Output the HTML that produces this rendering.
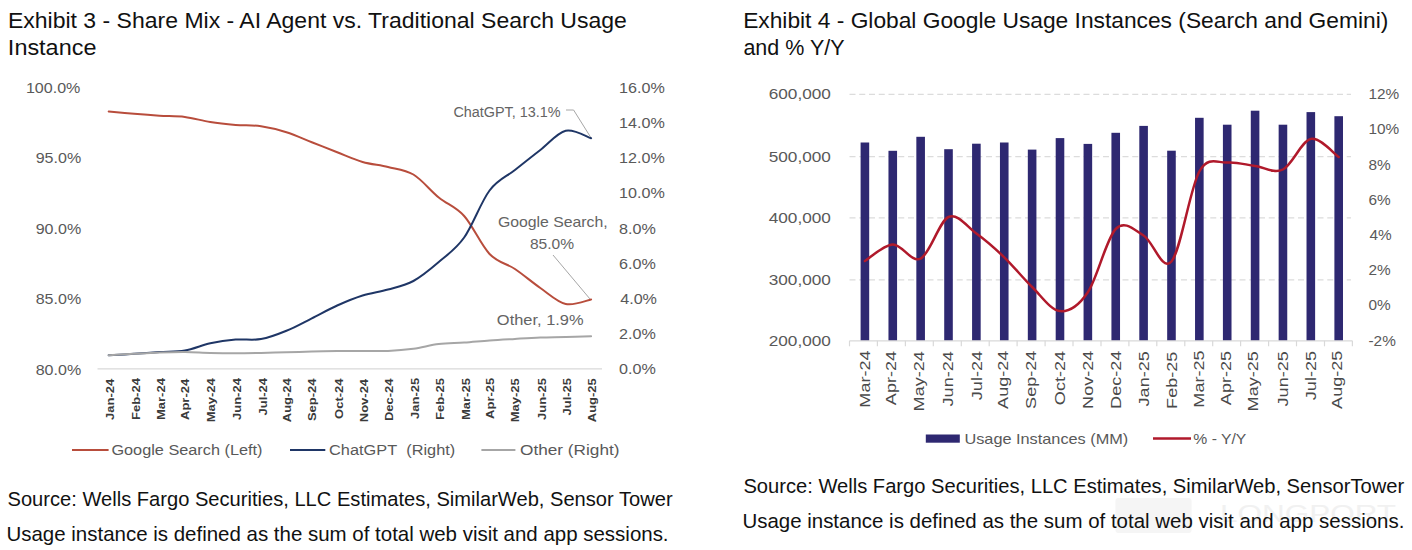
<!DOCTYPE html>
<html><head><meta charset="utf-8"><style>
html,body{margin:0;padding:0;background:#fff;}
body{width:1412px;height:550px;position:relative;overflow:hidden;font-family:"Liberation Sans", sans-serif;}
svg{position:absolute;left:0;top:0;}
text{font-family:"Liberation Sans", sans-serif;}
</style></head><body>
<svg width="1412" height="550" viewBox="0 0 1412 550">
<line x1="97.5" y1="368.8" x2="602" y2="368.8" stroke="#d9d9d9" stroke-width="1.3"/>
<path d="M108.70,111.40 C112.93,111.80 125.63,113.08 134.09,113.80 C142.55,114.52 151.02,115.18 159.48,115.70 C167.94,116.22 176.41,115.83 184.87,116.90 C193.33,117.97 201.80,120.77 210.26,122.10 C218.72,123.43 227.19,124.22 235.65,124.90 C244.11,125.58 252.58,124.98 261.04,126.20 C269.50,127.42 277.97,129.53 286.43,132.20 C294.89,134.87 303.36,138.85 311.82,142.20 C320.28,145.55 328.75,149.00 337.21,152.30 C345.67,155.60 354.14,159.55 362.60,162.00 C371.06,164.45 379.53,164.92 387.99,167.00 C396.45,169.08 404.92,169.42 413.38,174.50 C421.84,179.58 430.31,190.58 438.77,197.50 C447.23,204.42 455.70,206.58 464.16,216.00 C472.62,225.42 481.09,245.17 489.55,254.00 C498.01,262.83 506.48,263.33 514.94,269.00 C523.40,274.67 531.87,282.17 540.33,288.00 C548.79,293.83 557.26,302.08 565.72,304.00 C574.18,305.92 586.88,300.25 591.11,299.50" fill="none" stroke="#b84d3c" stroke-width="2.0" stroke-linecap="round" stroke-linejoin="round"/>
<path d="M108.70,355.30 C112.93,355.05 125.63,354.35 134.09,353.80 C142.55,353.25 151.02,352.55 159.48,352.00 C167.94,351.45 176.41,351.95 184.87,350.50 C193.33,349.05 201.80,345.12 210.26,343.30 C218.72,341.48 227.19,340.30 235.65,339.60 C244.11,338.90 252.58,340.57 261.04,339.10 C269.50,337.63 277.97,334.27 286.43,330.80 C294.89,327.33 303.36,322.52 311.82,318.30 C320.28,314.08 328.75,309.30 337.21,305.50 C345.67,301.70 354.14,298.17 362.60,295.50 C371.06,292.83 379.53,291.92 387.99,289.50 C396.45,287.08 404.92,285.58 413.38,281.00 C421.84,276.42 430.31,269.25 438.77,262.00 C447.23,254.75 455.70,249.42 464.16,237.50 C472.62,225.58 481.09,201.75 489.55,190.50 C498.01,179.25 506.48,176.75 514.94,170.00 C523.40,163.25 531.87,156.53 540.33,150.00 C548.79,143.47 557.26,132.77 565.72,130.80 C574.18,128.83 586.88,136.97 591.11,138.20" fill="none" stroke="#1f3666" stroke-width="2.0" stroke-linecap="round" stroke-linejoin="round"/>
<path d="M108.70,355.30 C112.93,355.05 125.63,354.27 134.09,353.80 C142.55,353.33 151.02,352.80 159.48,352.50 C167.94,352.20 176.41,351.93 184.87,352.00 C193.33,352.07 201.80,352.70 210.26,352.90 C218.72,353.10 227.19,353.20 235.65,353.20 C244.11,353.20 252.58,353.05 261.04,352.90 C269.50,352.75 277.97,352.52 286.43,352.30 C294.89,352.08 303.36,351.82 311.82,351.60 C320.28,351.38 328.75,351.12 337.21,351.00 C345.67,350.88 354.14,350.92 362.60,350.90 C371.06,350.88 379.53,351.27 387.99,350.90 C396.45,350.53 404.92,349.83 413.38,348.70 C421.84,347.57 430.31,345.12 438.77,344.10 C447.23,343.08 455.70,343.22 464.16,342.60 C472.62,341.98 481.09,341.02 489.55,340.40 C498.01,339.78 506.48,339.37 514.94,338.90 C523.40,338.43 531.87,337.90 540.33,337.60 C548.79,337.30 557.26,337.33 565.72,337.10 C574.18,336.87 586.88,336.35 591.11,336.20" fill="none" stroke="#a6a6a6" stroke-width="2.0" stroke-linecap="round" stroke-linejoin="round"/>
<polyline points="566,110 573.6,110 590.5,137" fill="none" stroke="#a6a6a6" stroke-width="1"/>
<line x1="553" y1="255" x2="590" y2="299" stroke="#a6a6a6" stroke-width="1"/>
<line x1="72" y1="450" x2="108.6" y2="450" stroke="#b84d3c" stroke-width="2.0"/>
<line x1="290" y1="450" x2="325.3" y2="450" stroke="#1f3666" stroke-width="2.0"/>
<line x1="481.4" y1="450" x2="515.4" y2="450" stroke="#a6a6a6" stroke-width="2.0"/>
<line x1="849.5" y1="94.4" x2="1351" y2="94.4" stroke="#dcdcdc" stroke-width="1.2" stroke-dasharray="6,3.75"/>
<line x1="849.5" y1="156.7" x2="1351" y2="156.7" stroke="#dcdcdc" stroke-width="1.2" stroke-dasharray="6,3.75"/>
<line x1="849.5" y1="217.9" x2="1351" y2="217.9" stroke="#dcdcdc" stroke-width="1.2" stroke-dasharray="6,3.75"/>
<line x1="849.5" y1="279.9" x2="1351" y2="279.9" stroke="#dcdcdc" stroke-width="1.2" stroke-dasharray="6,3.75"/>
<rect x="860.60" y="142.5" width="8.6" height="198.3" fill="#2e2871"/>
<rect x="888.47" y="150.8" width="8.6" height="190.0" fill="#2e2871"/>
<rect x="916.34" y="136.8" width="8.6" height="204.0" fill="#2e2871"/>
<rect x="944.21" y="149.2" width="8.6" height="191.6" fill="#2e2871"/>
<rect x="972.08" y="143.7" width="8.6" height="197.1" fill="#2e2871"/>
<rect x="999.95" y="142.5" width="8.6" height="198.3" fill="#2e2871"/>
<rect x="1027.82" y="149.6" width="8.6" height="191.2" fill="#2e2871"/>
<rect x="1055.69" y="138.1" width="8.6" height="202.7" fill="#2e2871"/>
<rect x="1083.56" y="143.9" width="8.6" height="196.9" fill="#2e2871"/>
<rect x="1111.43" y="132.8" width="8.6" height="208.0" fill="#2e2871"/>
<rect x="1139.30" y="125.9" width="8.6" height="214.9" fill="#2e2871"/>
<rect x="1167.17" y="150.7" width="8.6" height="190.1" fill="#2e2871"/>
<rect x="1195.04" y="117.8" width="8.6" height="223.0" fill="#2e2871"/>
<rect x="1222.91" y="124.7" width="8.6" height="216.1" fill="#2e2871"/>
<rect x="1250.78" y="110.7" width="8.6" height="230.1" fill="#2e2871"/>
<rect x="1278.65" y="124.7" width="8.6" height="216.1" fill="#2e2871"/>
<rect x="1306.52" y="112.1" width="8.6" height="228.7" fill="#2e2871"/>
<rect x="1334.39" y="116.2" width="8.6" height="224.6" fill="#2e2871"/>
<line x1="849.5" y1="340.8" x2="1352.4" y2="340.8" stroke="#d9d9d9" stroke-width="1.2"/>
<line x1="849.5" y1="340.8" x2="849.5" y2="346.3" stroke="#d9d9d9" stroke-width="1.2"/>
<line x1="877.4" y1="340.8" x2="877.4" y2="346.3" stroke="#d9d9d9" stroke-width="1.2"/>
<line x1="905.4" y1="340.8" x2="905.4" y2="346.3" stroke="#d9d9d9" stroke-width="1.2"/>
<line x1="933.3" y1="340.8" x2="933.3" y2="346.3" stroke="#d9d9d9" stroke-width="1.2"/>
<line x1="961.3" y1="340.8" x2="961.3" y2="346.3" stroke="#d9d9d9" stroke-width="1.2"/>
<line x1="989.2" y1="340.8" x2="989.2" y2="346.3" stroke="#d9d9d9" stroke-width="1.2"/>
<line x1="1017.1" y1="340.8" x2="1017.1" y2="346.3" stroke="#d9d9d9" stroke-width="1.2"/>
<line x1="1045.1" y1="340.8" x2="1045.1" y2="346.3" stroke="#d9d9d9" stroke-width="1.2"/>
<line x1="1073.0" y1="340.8" x2="1073.0" y2="346.3" stroke="#d9d9d9" stroke-width="1.2"/>
<line x1="1101.0" y1="340.8" x2="1101.0" y2="346.3" stroke="#d9d9d9" stroke-width="1.2"/>
<line x1="1128.9" y1="340.8" x2="1128.9" y2="346.3" stroke="#d9d9d9" stroke-width="1.2"/>
<line x1="1156.8" y1="340.8" x2="1156.8" y2="346.3" stroke="#d9d9d9" stroke-width="1.2"/>
<line x1="1184.8" y1="340.8" x2="1184.8" y2="346.3" stroke="#d9d9d9" stroke-width="1.2"/>
<line x1="1212.7" y1="340.8" x2="1212.7" y2="346.3" stroke="#d9d9d9" stroke-width="1.2"/>
<line x1="1240.6" y1="340.8" x2="1240.6" y2="346.3" stroke="#d9d9d9" stroke-width="1.2"/>
<line x1="1268.6" y1="340.8" x2="1268.6" y2="346.3" stroke="#d9d9d9" stroke-width="1.2"/>
<line x1="1296.5" y1="340.8" x2="1296.5" y2="346.3" stroke="#d9d9d9" stroke-width="1.2"/>
<line x1="1324.5" y1="340.8" x2="1324.5" y2="346.3" stroke="#d9d9d9" stroke-width="1.2"/>
<line x1="1352.4" y1="340.8" x2="1352.4" y2="346.3" stroke="#d9d9d9" stroke-width="1.2"/>
<path d="M864.90,261.00 C869.54,258.23 883.48,244.80 892.77,244.40 C902.06,244.00 911.35,263.17 920.64,258.60 C929.93,254.03 939.22,221.18 948.51,217.00 C957.80,212.82 967.09,226.78 976.38,233.50 C985.67,240.22 994.96,248.38 1004.25,257.30 C1013.54,266.22 1022.83,278.03 1032.12,287.00 C1041.41,295.97 1050.70,310.23 1059.99,311.10 C1069.28,311.97 1078.57,305.88 1087.86,292.20 C1097.15,278.52 1106.44,238.45 1115.73,229.00 C1125.02,219.55 1134.31,230.08 1143.60,235.50 C1152.89,240.92 1162.18,272.17 1171.47,261.50 C1180.76,250.83 1190.05,188.00 1199.34,171.50 C1208.63,155.00 1217.92,163.42 1227.21,162.50 C1236.50,161.58 1245.79,164.83 1255.08,166.00 C1264.37,167.17 1273.66,174.02 1282.95,169.50 C1292.24,164.98 1301.53,140.98 1310.82,138.90 C1320.11,136.82 1334.05,153.98 1338.69,157.00" fill="none" stroke="#b0192b" stroke-width="2.5" stroke-linecap="round" stroke-linejoin="round"/>
<rect x="925.8" y="434.5" width="34" height="8.2" fill="#2e2871"/>
<line x1="1153" y1="438.6" x2="1191" y2="438.6" stroke="#b0192b" stroke-width="2.5"/>
<g opacity="0.5"><rect x="1115.5" y="498" width="76" height="35" rx="3" fill="#ececec"/><text x="1220" y="522" font-size="24" fill="#e4e4e4" textLength="176" lengthAdjust="spacingAndGlyphs">LONGPORT</text></g>
<text transform="translate(7.91,28.00) scale(1.0467,1)" font-size="22" font-weight="normal" fill="#111111">Exhibit 3 - Share Mix - AI Agent vs. Traditional Search Usage</text>
<text transform="translate(7.87,55.20) scale(1.0650,1)" font-size="22" font-weight="normal" fill="#111111">Instance</text>
<text transform="translate(743.13,27.80) scale(1.0352,1)" font-size="22" font-weight="normal" fill="#111111">Exhibit 4 - Global Google Usage Instances (Search and Gemini)</text>
<text transform="translate(743.42,55.00) scale(0.9765,1)" font-size="22" font-weight="normal" fill="#111111">and % Y/Y</text>
<text transform="translate(7.51,506.20) scale(0.9912,1)" font-size="20.3" font-weight="normal" fill="#111111">Source: Wells Fargo Securities, LLC Estimates, SimilarWeb, Sensor Tower</text>
<text transform="translate(6.48,541.20) scale(1.0089,1)" font-size="20.3" font-weight="normal" fill="#111111">Usage instance is defined as the sum of total web visit and app sessions.</text>
<text transform="translate(743.41,493.00) scale(0.9922,1)" font-size="20.3" font-weight="normal" fill="#111111">Source: Wells Fargo Securities, LLC Estimates, SimilarWeb, SensorTower</text>
<text transform="translate(742.38,527.90) scale(1.0086,1)" font-size="20.3" font-weight="normal" fill="#111111">Usage instance is defined as the sum of total web visit and app sessions.</text>
<text transform="translate(453.41,117.30) scale(0.9943,1)" font-size="14.5" font-weight="normal" fill="#646464">ChatGPT, 13.1%</text>
<text transform="translate(497.91,227.00) scale(1.0909,1)" font-size="14.5" font-weight="normal" fill="#646464">Google Search,</text>
<text transform="translate(529.92,248.60) scale(1.0750,1)" font-size="14.5" font-weight="normal" fill="#646464">85.0%</text>
<text transform="translate(496.87,324.70) scale(1.1333,1)" font-size="14.5" font-weight="normal" fill="#646464">Other, 1.9%</text>
<text transform="translate(111.38,454.80) scale(1.1233,1)" font-size="14.5" font-weight="normal" fill="#595959">Google Search (Left)</text>
<text transform="translate(329.07,454.80) scale(1.1273,1)" font-size="14.5" font-weight="normal" fill="#595959">ChatGPT  (Right)</text>
<text transform="translate(520.01,454.80) scale(1.1890,1)" font-size="14.5" font-weight="normal" fill="#595959">Other (Right)</text>
<text transform="translate(964.41,443.90) scale(1.0866,1)" font-size="15" font-weight="normal" fill="#595959">Usage Instances (MM)</text>
<text transform="translate(1193.35,443.90) scale(1.0490,1)" font-size="15" font-weight="normal" fill="#595959">% - Y/Y</text>
<text transform="translate(25.91,92.80) scale(1.0857,1)" font-size="14.8" font-weight="normal" fill="#595959">100.0%</text>
<text transform="translate(35.69,163.20) scale(1.0857,1)" font-size="14.8" font-weight="normal" fill="#595959">95.0%</text>
<text transform="translate(35.69,233.80) scale(1.0857,1)" font-size="14.8" font-weight="normal" fill="#595959">90.0%</text>
<text transform="translate(35.69,304.30) scale(1.0857,1)" font-size="14.8" font-weight="normal" fill="#595959">85.0%</text>
<text transform="translate(35.69,374.60) scale(1.0857,1)" font-size="14.8" font-weight="normal" fill="#595959">80.0%</text>
<text transform="translate(619.11,92.80) scale(1.0900,1)" font-size="14.8" font-weight="normal" fill="#595959">16.0%</text>
<text transform="translate(619.11,128.00) scale(1.0900,1)" font-size="14.8" font-weight="normal" fill="#595959">14.0%</text>
<text transform="translate(619.11,163.20) scale(1.0900,1)" font-size="14.8" font-weight="normal" fill="#595959">12.0%</text>
<text transform="translate(619.11,198.40) scale(1.0900,1)" font-size="14.8" font-weight="normal" fill="#595959">10.0%</text>
<text transform="translate(619.11,233.60) scale(1.0900,1)" font-size="14.8" font-weight="normal" fill="#595959">8.0%</text>
<text transform="translate(619.11,268.80) scale(1.0900,1)" font-size="14.8" font-weight="normal" fill="#595959">6.0%</text>
<text transform="translate(620.20,304.00) scale(1.0900,1)" font-size="14.8" font-weight="normal" fill="#595959">4.0%</text>
<text transform="translate(619.11,339.20) scale(1.0900,1)" font-size="14.8" font-weight="normal" fill="#595959">2.0%</text>
<text transform="translate(619.11,374.40) scale(1.0900,1)" font-size="14.8" font-weight="normal" fill="#595959">0.0%</text>
<text transform="translate(768.65,99.40) scale(1.1491,1)" font-size="15" font-weight="normal" fill="#595959">600,000</text>
<text transform="translate(768.65,161.70) scale(1.1491,1)" font-size="15" font-weight="normal" fill="#595959">500,000</text>
<text transform="translate(768.65,222.90) scale(1.1491,1)" font-size="15" font-weight="normal" fill="#595959">400,000</text>
<text transform="translate(768.65,284.90) scale(1.1491,1)" font-size="15" font-weight="normal" fill="#595959">300,000</text>
<text transform="translate(768.65,345.80) scale(1.1491,1)" font-size="15" font-weight="normal" fill="#595959">200,000</text>
<text transform="translate(1368.48,99.20) scale(1.0241,1)" font-size="15" font-weight="normal" fill="#595959">12%</text>
<text transform="translate(1368.48,134.40) scale(1.0241,1)" font-size="15" font-weight="normal" fill="#595959">10%</text>
<text transform="translate(1368.48,169.60) scale(1.0241,1)" font-size="15" font-weight="normal" fill="#595959">8%</text>
<text transform="translate(1368.48,204.80) scale(1.0241,1)" font-size="15" font-weight="normal" fill="#595959">6%</text>
<text transform="translate(1369.50,240.00) scale(1.0241,1)" font-size="15" font-weight="normal" fill="#595959">4%</text>
<text transform="translate(1368.48,275.20) scale(1.0241,1)" font-size="15" font-weight="normal" fill="#595959">2%</text>
<text transform="translate(1368.48,310.40) scale(1.0241,1)" font-size="15" font-weight="normal" fill="#595959">0%</text>
<text transform="translate(1368.48,345.60) scale(1.0241,1)" font-size="15" font-weight="normal" fill="#595959">-2%</text>
<text transform="translate(114.20,420.00) rotate(-90) scale(1.1216,1)" font-size="11.6" font-weight="bold" fill="#3a3a3a">Jan-24</text>
<text transform="translate(139.59,420.00) rotate(-90) scale(1.1216,1)" font-size="11.6" font-weight="bold" fill="#3a3a3a">Feb-24</text>
<text transform="translate(164.98,420.00) rotate(-90) scale(1.1216,1)" font-size="11.6" font-weight="bold" fill="#3a3a3a">Mar-24</text>
<text transform="translate(189.37,420.00) rotate(-90) scale(1.1216,1)" font-size="11.6" font-weight="bold" fill="#3a3a3a">Apr-24</text>
<text transform="translate(214.76,422.24) rotate(-90) scale(1.1216,1)" font-size="11.6" font-weight="bold" fill="#3a3a3a">May-24</text>
<text transform="translate(241.15,420.00) rotate(-90) scale(1.1216,1)" font-size="11.6" font-weight="bold" fill="#3a3a3a">Jun-24</text>
<text transform="translate(266.54,415.51) rotate(-90) scale(1.1216,1)" font-size="11.6" font-weight="bold" fill="#3a3a3a">Jul-24</text>
<text transform="translate(290.93,422.24) rotate(-90) scale(1.1216,1)" font-size="11.6" font-weight="bold" fill="#3a3a3a">Aug-24</text>
<text transform="translate(316.32,421.12) rotate(-90) scale(1.1216,1)" font-size="11.6" font-weight="bold" fill="#3a3a3a">Sep-24</text>
<text transform="translate(342.71,418.88) rotate(-90) scale(1.1216,1)" font-size="11.6" font-weight="bold" fill="#3a3a3a">Oct-24</text>
<text transform="translate(368.10,422.24) rotate(-90) scale(1.1216,1)" font-size="11.6" font-weight="bold" fill="#3a3a3a">Nov-24</text>
<text transform="translate(393.49,421.12) rotate(-90) scale(1.1216,1)" font-size="11.6" font-weight="bold" fill="#3a3a3a">Dec-24</text>
<text transform="translate(418.88,418.88) rotate(-90) scale(1.1216,1)" font-size="11.6" font-weight="bold" fill="#3a3a3a">Jan-25</text>
<text transform="translate(444.27,420.00) rotate(-90) scale(1.1216,1)" font-size="11.6" font-weight="bold" fill="#3a3a3a">Feb-25</text>
<text transform="translate(469.66,420.00) rotate(-90) scale(1.1216,1)" font-size="11.6" font-weight="bold" fill="#3a3a3a">Mar-25</text>
<text transform="translate(494.05,418.88) rotate(-90) scale(1.1216,1)" font-size="11.6" font-weight="bold" fill="#3a3a3a">Apr-25</text>
<text transform="translate(519.44,422.24) rotate(-90) scale(1.1216,1)" font-size="11.6" font-weight="bold" fill="#3a3a3a">May-25</text>
<text transform="translate(545.83,420.00) rotate(-90) scale(1.1216,1)" font-size="11.6" font-weight="bold" fill="#3a3a3a">Jun-25</text>
<text transform="translate(571.22,415.51) rotate(-90) scale(1.1216,1)" font-size="11.6" font-weight="bold" fill="#3a3a3a">Jul-25</text>
<text transform="translate(595.61,422.24) rotate(-90) scale(1.1216,1)" font-size="11.6" font-weight="bold" fill="#3a3a3a">Aug-25</text>
<text transform="translate(869.80,407.65) rotate(-90) scale(1.2455,1)" font-size="14.5" font-weight="normal" fill="#4a4a4a">Mar-24</text>
<text transform="translate(896.17,405.15) rotate(-90) scale(1.2455,1)" font-size="14.5" font-weight="normal" fill="#4a4a4a">Apr-24</text>
<text transform="translate(924.04,411.38) rotate(-90) scale(1.2455,1)" font-size="14.5" font-weight="normal" fill="#4a4a4a">May-24</text>
<text transform="translate(953.41,406.40) rotate(-90) scale(1.2455,1)" font-size="14.5" font-weight="normal" fill="#4a4a4a">Jun-24</text>
<text transform="translate(981.78,400.17) rotate(-90) scale(1.2455,1)" font-size="14.5" font-weight="normal" fill="#4a4a4a">Jul-24</text>
<text transform="translate(1007.65,408.89) rotate(-90) scale(1.2455,1)" font-size="14.5" font-weight="normal" fill="#4a4a4a">Aug-24</text>
<text transform="translate(1035.52,408.89) rotate(-90) scale(1.2455,1)" font-size="14.5" font-weight="normal" fill="#4a4a4a">Sep-24</text>
<text transform="translate(1064.89,405.15) rotate(-90) scale(1.2455,1)" font-size="14.5" font-weight="normal" fill="#4a4a4a">Oct-24</text>
<text transform="translate(1092.76,408.89) rotate(-90) scale(1.2455,1)" font-size="14.5" font-weight="normal" fill="#4a4a4a">Nov-24</text>
<text transform="translate(1120.63,408.89) rotate(-90) scale(1.2455,1)" font-size="14.5" font-weight="normal" fill="#4a4a4a">Dec-24</text>
<text transform="translate(1148.50,406.40) rotate(-90) scale(1.2455,1)" font-size="14.5" font-weight="normal" fill="#4a4a4a">Jan-25</text>
<text transform="translate(1176.87,408.89) rotate(-90) scale(1.2455,1)" font-size="14.5" font-weight="normal" fill="#4a4a4a">Feb-25</text>
<text transform="translate(1204.24,407.65) rotate(-90) scale(1.2455,1)" font-size="14.5" font-weight="normal" fill="#4a4a4a">Mar-25</text>
<text transform="translate(1230.61,405.15) rotate(-90) scale(1.2455,1)" font-size="14.5" font-weight="normal" fill="#4a4a4a">Apr-25</text>
<text transform="translate(1258.48,411.38) rotate(-90) scale(1.2455,1)" font-size="14.5" font-weight="normal" fill="#4a4a4a">May-25</text>
<text transform="translate(1287.85,406.40) rotate(-90) scale(1.2455,1)" font-size="14.5" font-weight="normal" fill="#4a4a4a">Jun-25</text>
<text transform="translate(1316.22,400.17) rotate(-90) scale(1.2455,1)" font-size="14.5" font-weight="normal" fill="#4a4a4a">Jul-25</text>
<text transform="translate(1342.09,408.89) rotate(-90) scale(1.2455,1)" font-size="14.5" font-weight="normal" fill="#4a4a4a">Aug-25</text>
</svg>
</body></html>
